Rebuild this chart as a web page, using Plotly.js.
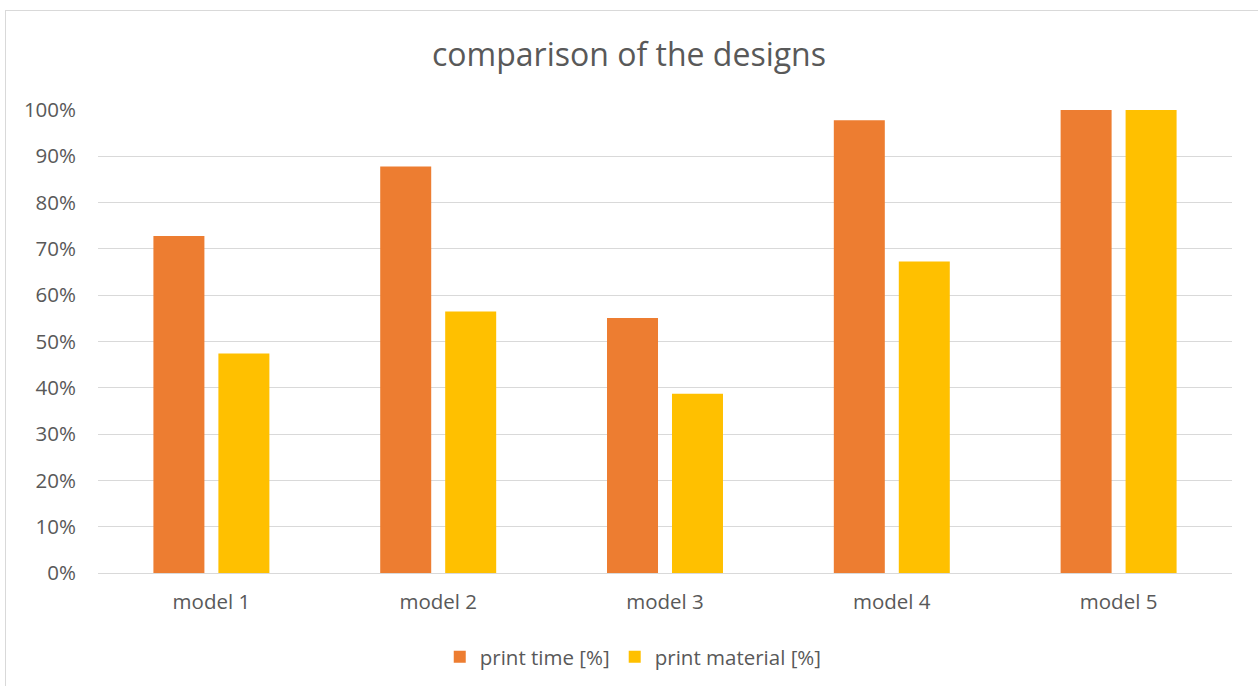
<!DOCTYPE html>
<html>
<head>
<meta charset="utf-8">
<script src="https://cdn.plot.ly/plotly-3.0.1.min.js"></script>
<style>
  html, body { margin: 0; padding: 0; background: #ffffff; }
  #frame {
    position: absolute; left: 5px; top: 10px; width: 1300px; height: 700px;
    border-left: 1.5px solid #d9d9d9; border-top: 1.5px solid #d9d9d9;
  }
  #chart { position: absolute; left: 0; top: 0; width: 1258px; height: 686px; }
</style>
</head>
<body>
<div id="frame"></div>
<div id="chart"></div>
<script>
// Design comparison data (fractions of the largest design)
const models = ["model 1", "model 2", "model 3", "model 4", "model 5"];
const printTime = [0.728, 0.878, 0.551, 0.978, 1.0];
const printMaterial = [0.474, 0.565, 0.387, 0.673, 1.0];
const yTicks = [0, 0.1, 0.2, 0.3, 0.4, 0.5, 0.6, 0.7, 0.8, 0.9, 1.0];

const FONT = "Open Sans, Lato, sans-serif";
const TEXT = "#595959";
const LABEL_SIZE = 20.5;

const traces = [
  {
    type: "bar", name: "print time [%]", x: models, y: printTime,
    marker: { color: "#ed7d31" }, hoverinfo: "x+y"
  },
  {
    type: "bar", name: "print material [%]", x: models, y: printMaterial,
    marker: { color: "#ffc000" }, hoverinfo: "x+y"
  }
];

const layout = {
  width: 1258, height: 686,
  margin: { l: 98, r: 26, t: 110, b: 113, autoexpand: false },
  paper_bgcolor: "rgba(0,0,0,0)",
  plot_bgcolor: "rgba(0,0,0,0)",
  font: { family: FONT, color: TEXT, size: LABEL_SIZE },
  title: {
    text: "comparison of the designs",
    font: { family: FONT, size: 32, color: TEXT },
    x: 0.5, xanchor: "center", y: 1 - 55 / 686, yanchor: "middle"
  },
  barmode: "group",
  bargap: 0.427,
  bargroupgap: 0.215,
  xaxis: {
    type: "category",
    showgrid: false,
    showline: true, linecolor: "#d9d9d9", linewidth: 1,
    ticks: "", ticklabelstandoff: 10,
    tickfont: { family: FONT, size: LABEL_SIZE, color: TEXT },
    fixedrange: true
  },
  yaxis: {
    range: [0, 1.0],
    tickvals: yTicks,
    tickformat: ".0%",
    showgrid: true, gridcolor: "#d9d9d9", gridwidth: 1,
    zeroline: false, showline: false,
    ticks: "", ticklabelstandoff: 21,
    tickfont: { family: FONT, size: LABEL_SIZE, color: TEXT },
    fixedrange: true
  },
  showlegend: true,
  legend: {
    orientation: "h",
    x: 0.472, xanchor: "center",
    y: -0.181, yanchor: "middle",
    font: { family: FONT, size: LABEL_SIZE, color: TEXT },
    itemwidth: 30,
    traceorder: "normal"
  }
};

Plotly.newPlot("chart", traces, layout, { displayModeBar: false, staticPlot: true });
</script>
</body>
</html>
